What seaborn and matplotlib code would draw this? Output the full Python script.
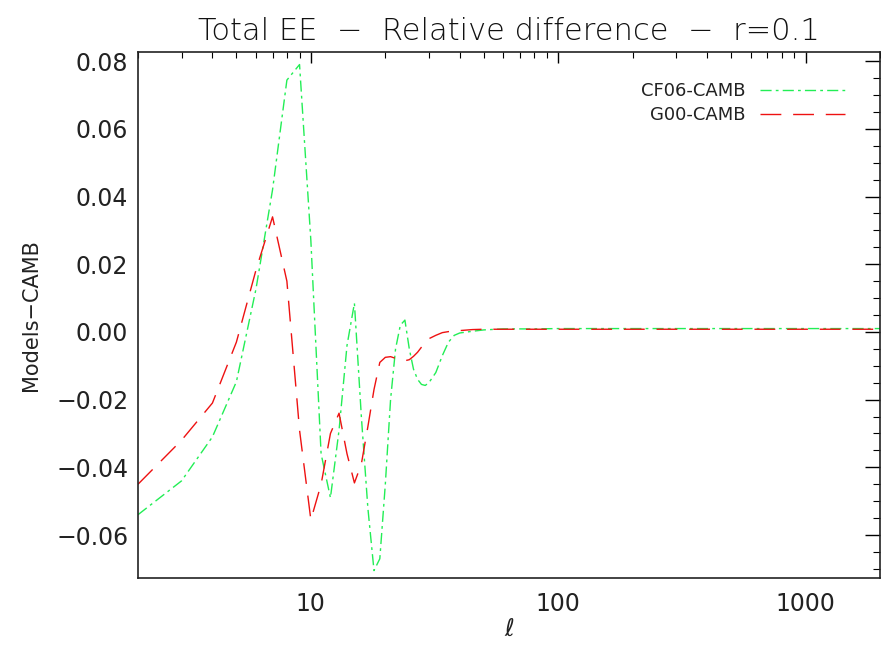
import matplotlib
matplotlib.use('Agg')
import numpy as np
import pandas as pd
import matplotlib.pyplot as plt
import matplotlib.ticker as mticker
import seaborn as sns

# multipoles
ell = [2, 3, 4, 5, 6, 7, 8, 9, 10, 11, 12, 13, 14, 15, 16, 17, 18, 19, 20,
       21, 22, 23, 24, 25, 26, 27, 28, 29, 30, 32, 34, 36, 38, 40, 45, 50,
       60, 80, 100, 200, 500, 1000, 2000]

# CF06 - CAMB (relative difference)
cf06 = [-0.054, -0.044, -0.031, -0.0147, 0.0127, 0.042, 0.0744, 0.079, 0.027,
        -0.036, -0.049, -0.029, -0.004, 0.0085, -0.025, -0.052, -0.0705, -0.067,
        -0.045, -0.020, -0.005, 0.002, 0.0035, -0.005, -0.011, -0.014, -0.0155,
        -0.0158, -0.015, -0.012, -0.007, -0.003, -0.001, -0.0003, 0.0002, 0.0006,
        0.0009, 0.0009, 0.001, 0.001, 0.001, 0.001, 0.001]

# G00 - CAMB (relative difference)
g00 = [-0.045, -0.032, -0.021, -0.003, 0.0183, 0.034, 0.015, -0.029, -0.0555,
       -0.045, -0.030, -0.024, -0.036, -0.0446, -0.039, -0.028, -0.017, -0.009,
       -0.0075, -0.0073, -0.0078, -0.0083, -0.0085, -0.0082, -0.0072, -0.006,
       -0.0045, -0.0032, -0.002, -0.001, -0.0002, 0.0001, 0.0002, 0.0004,
       0.0007, 0.0008, 0.0008, 0.0008, 0.0008, 0.0008, 0.0008, 0.0008, 0.0008]

models = ['CF06-CAMB', 'G00-CAMB']

df = pd.DataFrame({
    'ell': ell * 2,
    'diff': cf06 + g00,
    'model': [models[0]] * len(ell) + [models[1]] * len(ell),
})

sns.set_style('white')
plt.rcParams['font.family'] = ['DejaVu Sans']
plt.rcParams['mathtext.fontset'] = 'dejavusans'

fig = plt.figure(figsize=(8.81, 6.47), dpi=100)
ax = fig.add_axes([0.1566, 0.1066, 0.8423, 0.813])

sns.lineplot(data=df, x='ell', y='diff', hue='model', style='model',
             palette={models[0]: '#22ee55', models[1]: '#ee1111'},
             dashes={models[0]: (8, 3, 2, 3), models[1]: (15, 8.5)},
             linewidth=1.0, ax=ax)

ax.set_xscale('log')
ax.set_xlim(2, 2000)
ax.set_ylim(-0.0727, 0.0827)

ax.xaxis.set_major_locator(mticker.FixedLocator([10, 100, 1000]))
ax.xaxis.set_major_formatter(mticker.FixedFormatter(['10', '100', '1000']))
ax.xaxis.set_minor_locator(mticker.LogLocator(base=10, subs=np.arange(2, 10)))
ax.xaxis.set_minor_formatter(mticker.NullFormatter())

ax.yaxis.set_major_locator(mticker.MultipleLocator(0.02))
ax.yaxis.set_minor_locator(mticker.MultipleLocator(0.005))
ax.yaxis.set_major_formatter(mticker.FuncFormatter(
    lambda v, p: ('\u2212%.2f' % abs(v)) if v < -1e-9 else '%.2f' % abs(v)))

ax.tick_params(which='both', direction='in', top=True, right=True,
               color='black', labelsize=17, labelcolor='#222222')
ax.tick_params(axis='x', which='major', length=8, width=1, pad=10)
ax.tick_params(axis='x', which='minor', length=4, width=0.8)
ax.tick_params(axis='y', which='major', length=11, width=1, pad=7)
ax.tick_params(axis='y', which='minor', length=5, width=0.8)

for sp in ax.spines.values():
    sp.set_color('#222222')
    sp.set_linewidth(1.2)

ax.set_title('Total EE  \u2212  Relative difference  \u2212  r=0.1',
             fontsize=22, color='#111111', pad=9, fontweight='light')
ax.set_xlabel(r'$\ell$', fontsize=17, color='#222222', labelpad=1)
ax.set_ylabel('Models\u2212CAMB', fontsize=15, color='#222222', labelpad=11)

leg = ax.legend(loc='upper right', frameon=False, markerfirst=False,
                fontsize=13, handlelength=4.7, handletextpad=0.85,
                labelspacing=0.3, bbox_to_anchor=(0.975, 0.973))
for t in leg.get_texts():
    t.set_color('#222222')
    t.set_ha('right')

fig.savefig('out.png', dpi=100)
plt.close(fig)
